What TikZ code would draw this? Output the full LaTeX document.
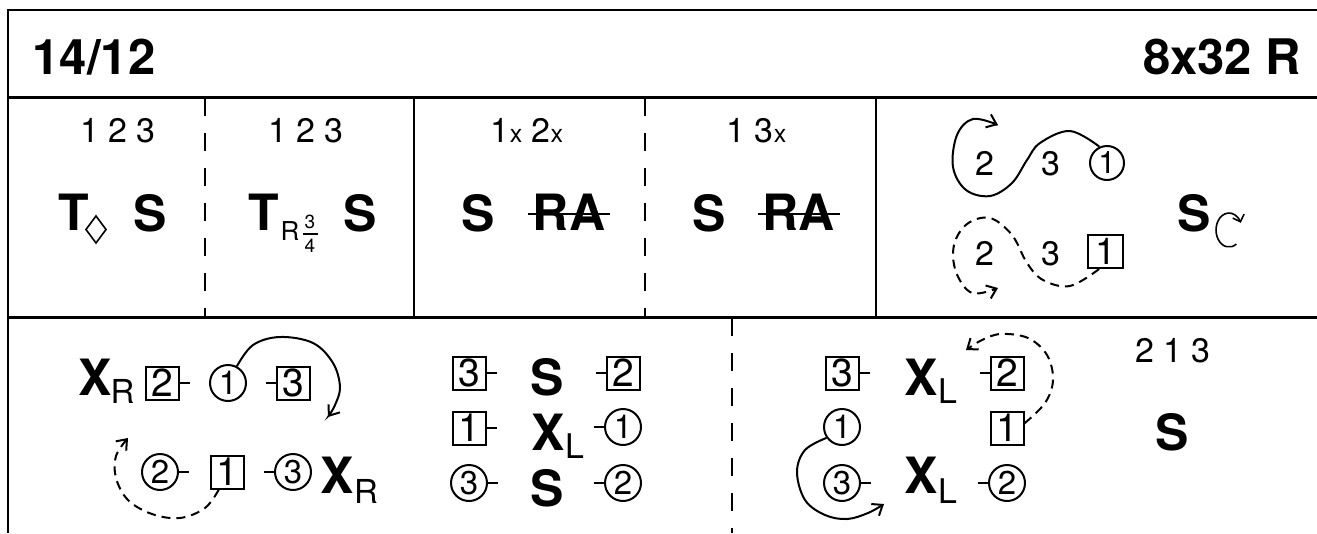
\documentclass[tikz,border=0pt]{standalone}
\usepackage{fontspec}
\setmainfont{TeX Gyre Heros}
\usetikzlibrary{arrows.meta}
\newcommand\smallx{{\fontsize{25}{30}\selectfont x}}
\begin{document}
\begin{tikzpicture}[x=1pt,y=-1pt,
  dig/.style={inner sep=0,anchor=base,font=\fontsize{34}{40}\selectfont},
  big/.style={inner sep=0,anchor=base,font=\bfseries\fontsize{50}{60}\selectfont},
  ttl/.style={inner sep=0,anchor=base,font=\bfseries\fontsize{49}{58}\selectfont},
  subs/.style={inner sep=0,anchor=base,font=\fontsize{34}{40}\selectfont},
  fracd/.style={inner sep=0,anchor=base,font=\fontsize{19}{22}\selectfont},
  sq/.style={draw,line width=2pt,minimum width=33pt,minimum height=33pt,inner sep=0,font=\fontsize{39}{42}\selectfont},
  ci/.style={circle,draw,line width=2pt,minimum size=36pt,inner sep=0,font=\fontsize{33}{36}\selectfont},
  tickln/.style={line width=2pt},
  frameh/.style={line width=2.8pt},
  framev/.style={line width=2pt},
  sepdash/.style={line width=2pt,dash pattern=on 18pt off 17pt},
  curve/.style={line width=2pt,-{Straight Barb[length=9pt,width=14pt]}},
  dcurve/.style={curve,dash pattern=on 9pt off 6pt},
]
\useasboundingbox (0,0) rectangle (1317,533);
% frame
\draw[framev] (7.5,9) -- (7.5,533);
\draw[frameh] (6.5,10) -- (1317,10);
\draw[frameh] (6.5,97.5) -- (1317,97.5);
\draw[line width=2.2pt] (6.5,317.5) -- (1317,317.5);
\draw[sepdash] (205,98) -- (205,317);
\draw[framev] (414,98) -- (414,317);
\draw[sepdash] (645,98) -- (645,317);
\draw[framev] (876,98) -- (876,317);
\draw[sepdash] (732,318) -- (732,533);
% title
\node[ttl] (date) at (94,74) {14/12};
\node[ttl] (form) at (1222,74) {8x32 R};
% cell 1
\node[dig] (n1) at (118,142) {1 2 3};
\node[big] (t1) at (73.5,230) {T};
\draw[line width=1.6pt] (96,216) -- (106,229.5) -- (96,243) -- (86,229.5) -- cycle;
\node[big] (s1) at (150,231) {S};
% cell 2
\node[dig] (n2) at (306,142) {1 2 3};
\node[big] (t2) at (263.5,230) {T};
\node[inner sep=0,anchor=base,font=\fontsize{26}{30}\selectfont] (r2) at (290,240) {R};
\node[fracd] (f3) at (310,228) {3};
\draw[line width=1.1pt] (303,234) -- (318,234);
\node[fracd] (f4) at (310,252) {4};
\node[big] (s2) at (360,231) {S};
% cell 3
\node[dig] (n3) at (527,142) {1\smallx{} 2\smallx};
\node[big] (s3) at (478.5,231) {S};
\node[big] (ra3) at (569,230) {RA};
\draw[line width=2pt] (528,214) -- (610,214);
% cell 4
\node[dig] (n4) at (756.5,142) {1 3\smallx};
\node[big] (s4) at (709,231) {S};
\node[big] (ra4) at (798.5,230) {RA};
\draw[line width=2pt] (758,214) -- (840,214);
% cell 5
\node[dig] (a2) at (985,175) {2};
\node[dig] (a3) at (1051,175) {3};
\node[ci,minimum size=34pt,font=\fontsize{31}{34}\selectfont] (a1) at (1107,163) {1};
\node[dig] (b2) at (985,265) {2};
\node[dig] (b3) at (1051,265) {3};
\node[sq,minimum width=35pt,font=\fontsize{37}{40}\selectfont] (b1) at (1105.5,251.5) {1};
\node[big] (s5) at (1194,231) {S};
\draw[line width=1.6pt,-{Straight Barb[length=6pt,width=12pt]}] (1236.3,244.1) arc[start angle=56,end angle=335,x radius=13,y radius=17];
\draw[curve] plot[smooth,tension=0.6] coordinates {(a1.115) (1070,131) (1040,143) (1027,160) (1012,183) (990,196) (966,190) (953,167) (957,135) (973,119) (998,125)};
\draw[dcurve] plot[smooth,tension=0.6] coordinates {(b1.250) (1070,286) (1043,280) (1027,263) (1012,235) (990,218) (967,224) (954,245) (956,272) (972,293) (998,288)};
% bottom left
\node[big] (xr1) at (95,395) {X};
\node[subs,font=\fontsize{33}{38}\selectfont] (xr1s) at (122.5,403) {R};
\node[sq] (lq2) at (162,383) {2};
\node[ci] (lc1) at (228,383) {1};
\node[sq] (lq3) at (293,383) {3};
\draw[tickln] (lq2.east) -- ++(10,0);
\draw[tickln] (lq3.west) -- ++(-10,0);
\node[ci] (lc2) at (160,472) {2};
\node[sq] (lq1) at (227,472) {1};
\node[ci] (lc3) at (293,472) {3};
\draw[tickln] (lc2.east) -- ++(10,0);
\draw[tickln] (lc3.west) -- ++(-10,0);
\node[big] (xr2) at (337,493) {X};
\node[subs,font=\fontsize{33}{38}\selectfont] (xr2s) at (366,503) {R};
\draw[curve] plot[smooth,tension=0.6] coordinates {(lc1.62) (253,345) (280,337) (313,343) (333,363) (340,387) (335,405) (328,417)};
\draw[dcurve] plot[smooth,tension=0.6] coordinates {(lq1.245) (205,508) (180,518) (152,514) (128,500) (116,478) (116,456) (128,438)};
% bottom middle
\node[sq] (mq3) at (469,373) {3};
\node[big] (ms1) at (547,395) {S};
\node[sq] (mq2) at (623,373) {2};
\draw[tickln] (mq3.east) -- ++(10,0);
\draw[tickln] (mq2.west) -- ++(-10,0);
\node[sq] (mq1) at (469,428) {1};
\node[big] (mx) at (548,450) {X};
\node[subs] (mxs) at (574.5,458) {L};
\node[ci] (mc1) at (623,427) {1};
\draw[tickln] (mq1.east) -- ++(10,0);
\draw[tickln] (mc1.west) -- ++(-10,0);
\node[ci] (mc3) at (469,483) {3};
\node[big] (ms2) at (547,506) {S};
\node[ci] (mc2) at (623,483) {2};
\draw[tickln] (mc3.east) -- ++(10,0);
\draw[tickln] (mc2.west) -- ++(-10,0);
% bottom right
\node[sq] (rq3) at (842,373) {3};
\node[big] (rx1) at (921.5,395) {X};
\node[subs] (rx1s) at (947.5,403) {L};
\node[sq] (rq2) at (1007,373) {2};
\draw[tickln] (rq3.east) -- ++(10,0);
\draw[tickln] (rq2.west) -- ++(-10,0);
\node[ci] (rc1) at (842,427) {1};
\node[sq] (rq1) at (1007,428) {1};
\node[ci] (rc3) at (842,483) {3};
\node[big] (rx2) at (921.5,493) {X};
\node[subs] (rx2s) at (947.5,503) {L};
\node[ci] (rc2) at (1007,483) {2};
\draw[tickln] (rc3.east) -- ++(10,0);
\draw[tickln] (rc2.west) -- ++(-10,0);
\node[dig] (rn) at (1173,362) {2 1 3};
\node[big] (rs) at (1172,450) {S};
\draw[dcurve] plot[smooth,tension=0.6] coordinates {(rq1.15) (1045,403) (1053,380) (1047,355) (1028,338) (1001,334) (982,340) (966,350)};
\draw[curve] plot[smooth,tension=0.6] coordinates {(rc1.215) (805,450) (797,472) (805,500) (825,515) (847,519) (868,513) (884,504)};
\end{tikzpicture}
\end{document}
